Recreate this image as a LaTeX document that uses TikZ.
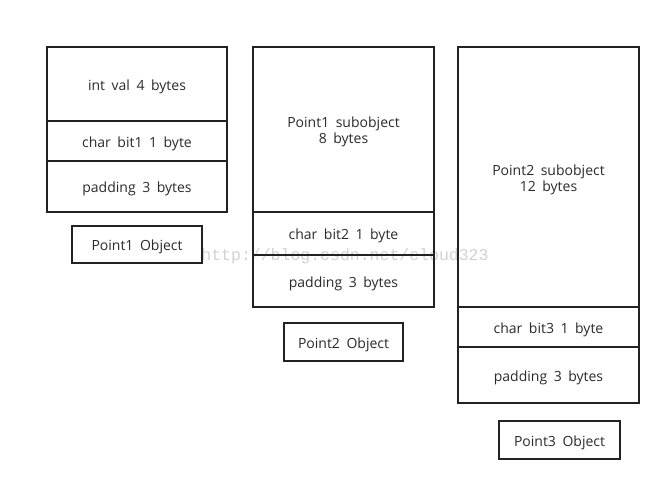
\documentclass[tikz,border=0pt]{standalone}
\usepackage{fontspec}
\setmainfont{Open Sans}[WordSpace=1.8]
\newfontfamily\wmfont{Liberation Mono}
\definecolor{ink}{HTML}{222222}
\definecolor{txt}{HTML}{2A2A2A}
\definecolor{wm}{HTML}{D2D2D2}
\newcommand\celltext[1]{\raisebox{-3pt}[\height][\depth]{\begin{tabular}{@{}c@{}}#1\end{tabular}}}
\begin{document}
\begin{tikzpicture}[x=1pt,y=-1pt,
  cell/.style={draw=ink, line width=1.8pt, inner sep=0pt, align=center,
    text=txt, font=\fontsize{14}{16}\selectfont},
]
\useasboundingbox (0,0) rectangle (671,491);
\node[font=\wmfont\fontsize{16.5}{18}\selectfont, text=wm] (wmark) at (345,256) {http://blog.csdn.net/cloud323};
% Point1
\node[cell, minimum width=180pt, minimum height=74pt] (p1a) at (137,84) {\celltext{int val 4 bytes}};
\node[cell, minimum width=180pt, minimum height=40pt] (p1b) at (137,141) {\celltext{char bit1 1 byte}};
\node[cell, minimum width=180pt, minimum height=51pt] (p1c) at (137,186.5) {\celltext{padding 3 bytes}};
\node[cell, minimum width=130pt, minimum height=37pt] (p1l) at (137,244.5) {\celltext{Point1 Object}};
% Point2
\node[cell, minimum width=181pt, minimum height=165pt] (p2a) at (343.5,129.5) {\celltext{Point1 subobject\\8 bytes}};
\node[cell, minimum width=181pt, minimum height=43pt] (p2b) at (343.5,233.5) {\celltext{char bit2 1 byte}};
\node[cell, minimum width=181pt, minimum height=52pt] (p2c) at (343.5,281) {\celltext{padding 3 bytes}};
\node[cell, minimum width=119pt, minimum height=38pt] (p2l) at (343.5,342) {\celltext{Point2 Object}};
% Point3
\node[cell, minimum width=181pt, minimum height=260pt] (p3a) at (548.5,177) {\celltext{Point2 subobject\\12 bytes}};
\node[cell, minimum width=181pt, minimum height=40pt] (p3b) at (548.5,327) {\celltext{char bit3 1 byte}};
\node[cell, minimum width=181pt, minimum height=56pt] (p3c) at (548.5,375) {\celltext{padding 3 bytes}};
\node[cell, minimum width=121pt, minimum height=38pt] (p3l) at (559.5,440) {\celltext{Point3 Object}};
\end{tikzpicture}
\end{document}
